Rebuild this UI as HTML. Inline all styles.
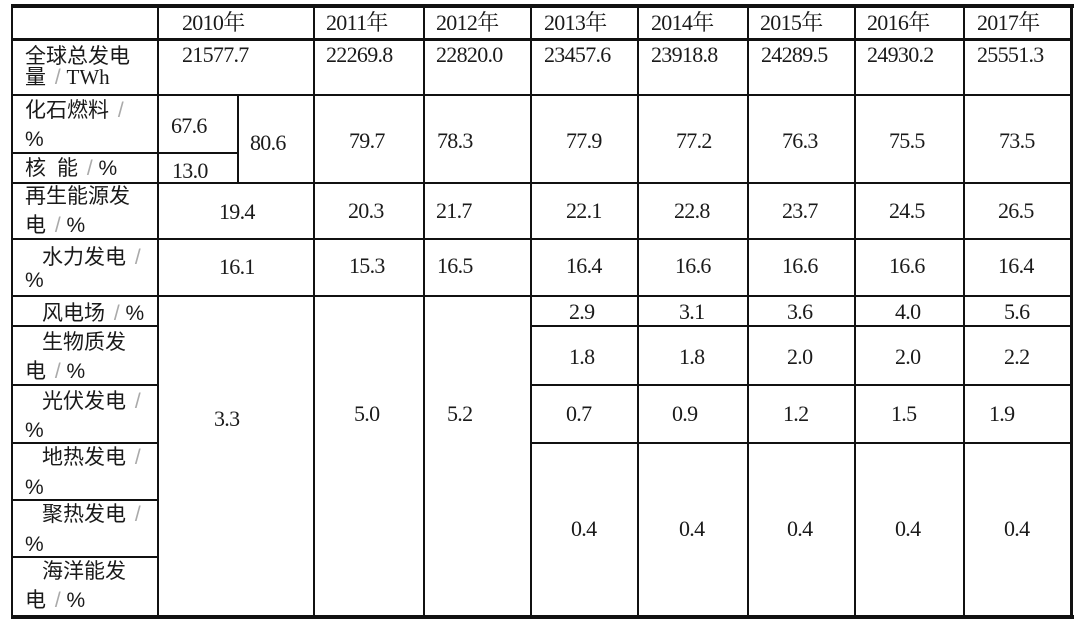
<!DOCTYPE html>
<html>
<head>
<meta charset="utf-8">
<style>
html,body{margin:0;padding:0;background:#fff;}
#c{position:relative;width:1080px;height:630px;overflow:hidden;background:#fff;}
.h{position:absolute;background:#111;}
.n{position:absolute;font-family:"Liberation Serif","Noto Serif CJK SC","Noto Sans CJK SC",serif;font-size:22px;line-height:22px;letter-spacing:-0.7px;color:#1a1a1a;white-space:pre;}
.l{position:absolute;font-family:"Liberation Sans","Noto Sans CJK SC",sans-serif;font-size:21px;line-height:21px;color:#1a1a1a;white-space:pre;}
.s{color:#aaa;margin-left:3px;}
.sf{font-family:"Liberation Serif",serif;}
</style>
</head>
<body>
<div id="c">
<!-- horizontal lines -->
<div class="h" style="left:11px;top:4px;width:1063px;height:4px"></div>
<div class="h" style="left:11px;top:38px;width:1062px;height:3px"></div>
<div class="h" style="left:11px;top:94px;width:1062px;height:2px"></div>
<div class="h" style="left:11px;top:152px;width:227px;height:2px"></div>
<div class="h" style="left:11px;top:182px;width:1062px;height:2px"></div>
<div class="h" style="left:11px;top:238px;width:1062px;height:2px"></div>
<div class="h" style="left:11px;top:295px;width:1062px;height:2px"></div>
<div class="h" style="left:11px;top:325px;width:148px;height:2px"></div>
<div class="h" style="left:530px;top:325px;width:543px;height:2px"></div>
<div class="h" style="left:11px;top:384px;width:148px;height:2px"></div>
<div class="h" style="left:530px;top:384px;width:543px;height:2px"></div>
<div class="h" style="left:11px;top:442px;width:148px;height:2px"></div>
<div class="h" style="left:530px;top:442px;width:543px;height:2px"></div>
<div class="h" style="left:11px;top:499px;width:148px;height:2px"></div>
<div class="h" style="left:11px;top:556px;width:148px;height:2px"></div>
<div class="h" style="left:11px;top:615px;width:1063px;height:4px"></div>
<!-- vertical lines -->
<div class="h" style="left:11px;top:4px;width:2px;height:615px"></div>
<div class="h" style="left:157px;top:4px;width:2px;height:615px"></div>
<div class="h" style="left:237px;top:94px;width:2px;height:90px"></div>
<div class="h" style="left:313px;top:4px;width:2px;height:615px"></div>
<div class="h" style="left:423px;top:4px;width:2px;height:615px"></div>
<div class="h" style="left:530px;top:4px;width:2px;height:615px"></div>
<div class="h" style="left:637px;top:4px;width:2px;height:615px"></div>
<div class="h" style="left:747px;top:4px;width:2px;height:615px"></div>
<div class="h" style="left:854px;top:4px;width:2px;height:615px"></div>
<div class="h" style="left:963px;top:4px;width:2px;height:615px"></div>
<div class="h" style="left:1070px;top:4px;width:3px;height:615px"></div>

<!-- header -->
<div class="n" style="left:182px;top:12px">2010年</div>
<div class="n" style="left:326px;top:12px">2011年</div>
<div class="n" style="left:436px;top:12px">2012年</div>
<div class="n" style="left:544px;top:12px">2013年</div>
<div class="n" style="left:651px;top:12px">2014年</div>
<div class="n" style="left:760px;top:12px">2015年</div>
<div class="n" style="left:867px;top:12px">2016年</div>
<div class="n" style="left:977px;top:12px">2017年</div>

<!-- row 2 -->
<div class="n" style="left:182px;top:44px">21577.7</div>
<div class="n" style="left:326px;top:44px">22269.8</div>
<div class="n" style="left:436px;top:44px">22820.0</div>
<div class="n" style="left:544px;top:44px">23457.6</div>
<div class="n" style="left:651px;top:44px">23918.8</div>
<div class="n" style="left:761px;top:44px">24289.5</div>
<div class="n" style="left:867px;top:44px">24930.2</div>
<div class="n" style="left:977px;top:44px">25551.3</div>

<!-- row 3 -->
<div class="n" style="left:171px;top:115px">67.6</div>
<div class="n" style="left:250px;top:132px">80.6</div>
<div class="n" style="left:172px;top:160px">13.0</div>
<div class="n" style="left:349px;top:130px">79.7</div>
<div class="n" style="left:437px;top:130px">78.3</div>
<div class="n" style="left:566px;top:130px">77.9</div>
<div class="n" style="left:676px;top:130px">77.2</div>
<div class="n" style="left:782px;top:130px">76.3</div>
<div class="n" style="left:889px;top:130px">75.5</div>
<div class="n" style="left:999px;top:130px">73.5</div>

<!-- row 4 -->
<div class="n" style="left:219px;top:201px">19.4</div>
<div class="n" style="left:348px;top:200px">20.3</div>
<div class="n" style="left:436px;top:200px">21.7</div>
<div class="n" style="left:566px;top:200px">22.1</div>
<div class="n" style="left:674px;top:200px">22.8</div>
<div class="n" style="left:782px;top:200px">23.7</div>
<div class="n" style="left:889px;top:200px">24.5</div>
<div class="n" style="left:998px;top:200px">26.5</div>

<!-- row 5 -->
<div class="n" style="left:219px;top:256px">16.1</div>
<div class="n" style="left:349px;top:255px">15.3</div>
<div class="n" style="left:437px;top:255px">16.5</div>
<div class="n" style="left:566px;top:255px">16.4</div>
<div class="n" style="left:675px;top:255px">16.6</div>
<div class="n" style="left:782px;top:255px">16.6</div>
<div class="n" style="left:889px;top:255px">16.6</div>
<div class="n" style="left:998px;top:255px">16.4</div>

<!-- row 6 -->
<div class="n" style="left:569px;top:301px">2.9</div>
<div class="n" style="left:679px;top:301px">3.1</div>
<div class="n" style="left:787px;top:301px">3.6</div>
<div class="n" style="left:895px;top:301px">4.0</div>
<div class="n" style="left:1004px;top:301px">5.6</div>

<!-- row 7 -->
<div class="n" style="left:569px;top:346px">1.8</div>
<div class="n" style="left:679px;top:346px">1.8</div>
<div class="n" style="left:787px;top:346px">2.0</div>
<div class="n" style="left:895px;top:346px">2.0</div>
<div class="n" style="left:1004px;top:346px">2.2</div>

<!-- row 8 -->
<div class="n" style="left:214px;top:408px">3.3</div>
<div class="n" style="left:354px;top:403px">5.0</div>
<div class="n" style="left:447px;top:403px">5.2</div>
<div class="n" style="left:566px;top:403px">0.7</div>
<div class="n" style="left:672px;top:403px">0.9</div>
<div class="n" style="left:783px;top:403px">1.2</div>
<div class="n" style="left:891px;top:403px">1.5</div>
<div class="n" style="left:989px;top:403px">1.9</div>

<!-- row 9 -->
<div class="n" style="left:571px;top:518px">0.4</div>
<div class="n" style="left:679px;top:518px">0.4</div>
<div class="n" style="left:787px;top:518px">0.4</div>
<div class="n" style="left:895px;top:518px">0.4</div>
<div class="n" style="left:1004px;top:518px">0.4</div>

<!-- labels -->
<div class="l" style="left:25px;top:46px">全球总发电</div>
<div class="l" style="left:25px;top:67px">量 <span class="s">/</span> <span class="sf">TWh</span></div>

<div class="l" style="left:25px;top:100px">化石燃料 <span class="s">/</span></div>
<div class="l" style="left:25px;top:129px">%</div>

<div class="l" style="left:25px;top:158px">核</div>
<div class="l" style="left:57px;top:158px">能 <span class="s">/</span> %</div>

<div class="l" style="left:25px;top:186px">再生能源发</div>
<div class="l" style="left:25px;top:215px">电 <span class="s">/</span> %</div>

<div class="l" style="left:42px;top:247px">水力发电 <span class="s">/</span></div>
<div class="l" style="left:25px;top:270px">%</div>

<div class="l" style="left:42px;top:303px">风电场 <span class="s">/</span> %</div>

<div class="l" style="left:42px;top:332px">生物质发</div>
<div class="l" style="left:25px;top:361px">电 <span class="s">/</span> %</div>

<div class="l" style="left:42px;top:391px">光伏发电 <span class="s">/</span></div>
<div class="l" style="left:25px;top:420px">%</div>

<div class="l" style="left:42px;top:447px">地热发电 <span class="s">/</span></div>
<div class="l" style="left:25px;top:477px">%</div>

<div class="l" style="left:42px;top:504px">聚热发电 <span class="s">/</span></div>
<div class="l" style="left:25px;top:534px">%</div>

<div class="l" style="left:42px;top:561px">海洋能发</div>
<div class="l" style="left:25px;top:590px">电 <span class="s">/</span> %</div>
</div>
</body>
</html>
